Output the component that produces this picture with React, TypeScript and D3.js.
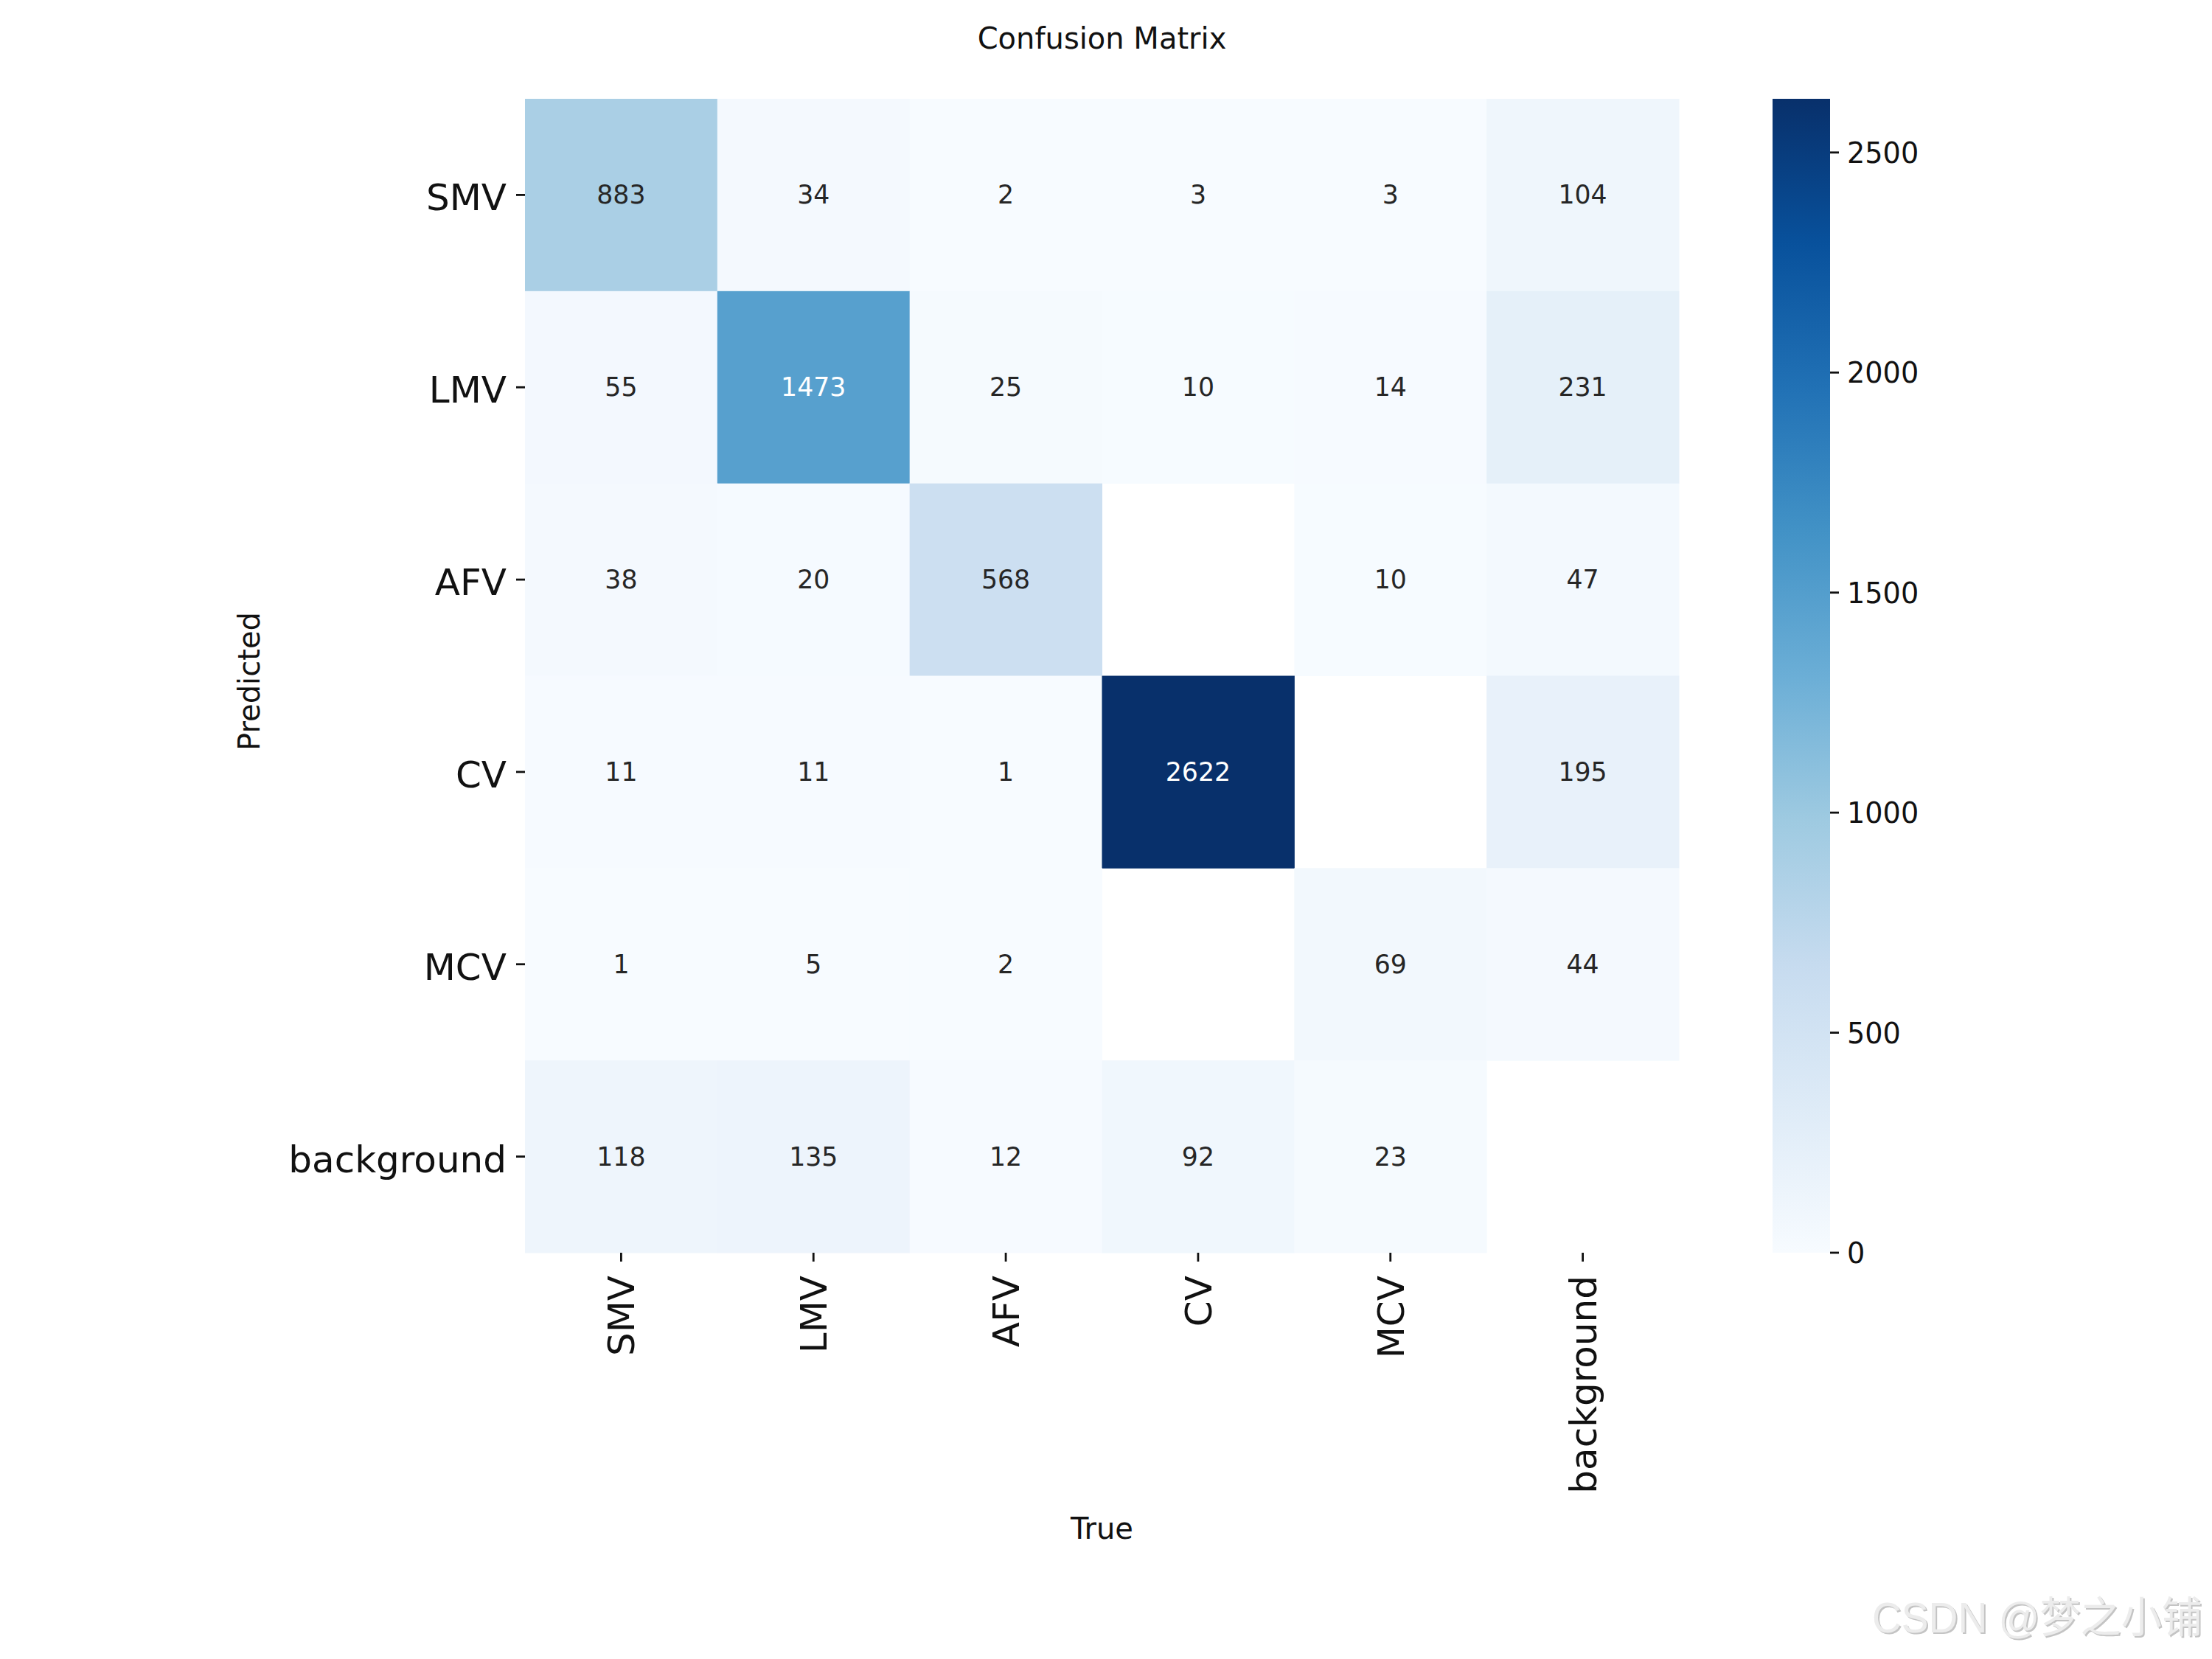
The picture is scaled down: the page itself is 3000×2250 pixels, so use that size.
import React from "react";
import * as d3 from "d3";

const classes = ["SMV", "LMV", "AFV", "CV", "MCV", "background"];
const rowSMV = [883, 34, 2, 3, 3, 104];
const rowLMV = [55, 1473, 25, 10, 14, 231];
const rowAFV = [38, 20, 568, 0, 10, 47];
const rowCV = [11, 11, 1, 2622, 0, 195];
const rowMCV = [1, 5, 2, 0, 69, 44];
const rowBackground = [118, 135, 12, 92, 23, 0];
const matrix = [rowSMV, rowLMV, rowAFV, rowCV, rowMCV, rowBackground];
const colorbarTicks = [0, 500, 1000, 1500, 2000, 2500];
const bluesStops = ["#f7fbff", "#deebf7", "#c6dbef", "#9ecae1", "#6baed6", "#4292c6", "#2171b5", "#08519c", "#08306b"];
const titleText = "Confusion Matrix";
const xLabelText = "True";
const yLabelText = "Predicted";
const watermarkText = "CSDN @梦之小铺";

const W = 3000;
const H = 2250;
const left = 712;
const right = 2277;
const top = 134;
const bottom = 1699;
const cbLeft = 2404;
const cbRight = 2482;
const FONT = "'DejaVu Sans', sans-serif";

function luminance(c: string) {
  const rgb = d3.rgb(c);
  const f = (v: number) => {
    const s = v / 255;
    return s <= 0.03928 ? s / 12.92 : Math.pow((s + 0.055) / 1.055, 2.4);
  };
  return 0.2126 * f(rgb.r) + 0.7152 * f(rgb.g) + 0.0722 * f(rgb.b);
}

export default function App() {
  const vmax = d3.max(matrix.flat()) as number;
  const x = d3.scaleBand<number>().domain(d3.range(classes.length)).range([left, right]).padding(0);
  const y = d3.scaleBand<number>().domain(d3.range(classes.length)).range([top, bottom]).padding(0);
  const cmap = d3
    .scaleLinear<string>()
    .domain(bluesStops.map((_, i) => i / (bluesStops.length - 1)))
    .range(bluesStops)
    .interpolate(d3.interpolateRgb);
  const color = (v: number) => cmap(v / vmax);
  const cbScale = d3.scaleLinear().domain([0, vmax]).range([bottom, top]);
  const bw = x.bandwidth();
  const bh = y.bandwidth();
  const textCol = "#111";
  const tickFont = 50;

  return (
    <div style={{ position: "absolute", left: 0, top: 0 }}>
      <svg width={W} height={H} xmlns="http://www.w3.org/2000/svg" style={{ display: "block", background: "#fff" }}>
        <defs>
          <linearGradient id="cbGrad" x1="0" y1="1" x2="0" y2="0">
            {bluesStops.map((c, i) => (
              <stop key={i} offset={i / (bluesStops.length - 1)} stopColor={c} />
            ))}
          </linearGradient>
        </defs>
        <rect x={0} y={0} width={W} height={H} fill="#fff" />
        {/* title */}
        <text x={(left + right) / 2} y={66} fontFamily={FONT} fontSize={40} textAnchor="middle" fill={textCol}>
          {titleText}
        </text>
        {/* cells */}
        {matrix.map((row, r) =>
          row.map((v, c) =>
            v > 0 ? (
              <rect key={`c${r}-${c}`} x={x(c)} y={y(r)} width={bw + 0.5} height={bh + 0.5} fill={color(v)} />
            ) : null
          )
        )}
        {/* annotations */}
        {matrix.map((row, r) =>
          row.map((v, c) =>
            v > 0 ? (
              <text
                key={`t${r}-${c}`}
                x={(x(c) as number) + bw / 2}
                y={(y(r) as number) + bh / 2 + 12}
                fontFamily={FONT}
                fontSize={34.7}
                textAnchor="middle"
                fill={luminance(color(v)) > 0.408 ? "#262626" : "#ffffff"}
              >
                {v}
              </text>
            ) : null
          )
        )}
        {/* y ticks */}
        {classes.map((name, i) => {
          const cy = (y(i) as number) + bh / 2;
          return (
            <g key={`yt${i}`}>
              <line x1={left - 12} x2={left} y1={cy} y2={cy} stroke={textCol} strokeWidth={2.8} />
              <text x={687} y={cy + 21} fontFamily={FONT} fontSize={tickFont} textAnchor="end" fill={textCol}>
                {name}
              </text>
            </g>
          );
        })}
        {/* x ticks */}
        {classes.map((name, i) => {
          const cx = (x(i) as number) + bw / 2;
          const ty = 1730;
          return (
            <g key={`xt${i}`}>
              <line x1={cx} x2={cx} y1={bottom} y2={bottom + 12} stroke={textCol} strokeWidth={2.8} />
              <text
                x={cx + 18}
                y={ty}
                transform={`rotate(-90 ${cx + 18} ${ty})`}
                fontFamily={FONT}
                fontSize={tickFont}
                textAnchor="end"
                fill={textCol}
              >
                {name}
              </text>
            </g>
          );
        })}
        {/* axis labels */}
        <text x={(left + right) / 2} y={2087} fontFamily={FONT} fontSize={40} textAnchor="middle" fill={textCol}>
          {xLabelText}
        </text>
        <text
          x={352}
          y={924}
          transform={`rotate(-90 352 924)`}
          fontFamily={FONT}
          fontSize={40}
          textAnchor="middle"
          fill={textCol}
        >
          {yLabelText}
        </text>
        {/* colorbar */}
        <rect x={cbLeft} y={top} width={cbRight - cbLeft} height={bottom - top} fill="url(#cbGrad)" />
        {colorbarTicks.map((t) => {
          const ty = cbScale(t);
          return (
            <g key={`cb${t}`}>
              <line x1={cbRight} x2={cbRight + 12} y1={ty} y2={ty} stroke={textCol} strokeWidth={2.8} />
              <text x={2505} y={ty + 14} fontFamily={FONT} fontSize={38.2} textAnchor="start" fill={textCol}>
                {t}
              </text>
            </g>
          );
        })}
        {/* watermark */}
        <text
          x={2541}
          y={2216}
          fontFamily="'Liberation Sans', 'Noto Sans CJK SC', sans-serif"
          fontSize={58}
          textLength={448}
          lengthAdjust="spacingAndGlyphs"
          fill="#c4c4c4"
        >
          {watermarkText}
        </text>
        <text
          x={2539}
          y={2214}
          fontFamily="'Liberation Sans', 'Noto Sans CJK SC', sans-serif"
          fontSize={58}
          textLength={448}
          lengthAdjust="spacingAndGlyphs"
          fill="#ececec"
        >
          {watermarkText}
        </text>
      </svg>
    </div>
  );
}
